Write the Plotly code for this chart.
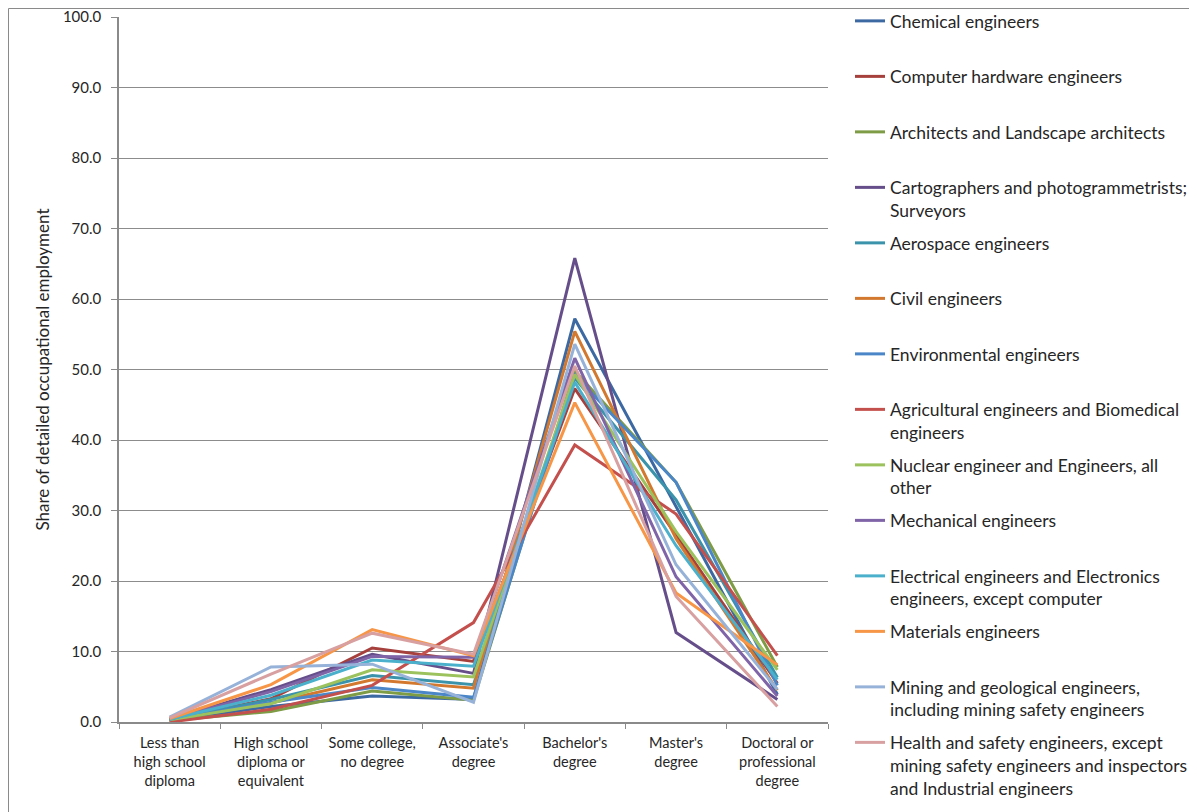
import plotly.graph_objects as go

categories = ["Less than<br>high school<br>diploma", "High school<br>diploma or<br>equivalent",
              "Some college,<br>no degree", "Associate's<br>degree", "Bachelor's<br>degree",
              "Master's<br>degree", "Doctoral or<br>professional<br>degree"]

series_names = [
    "Chemical engineers",
    "Computer hardware engineers",
    "Architects and Landscape architects",
    "Cartographers and photogrammetrists;<br>Surveyors",
    "Aerospace engineers",
    "Civil engineers",
    "Environmental engineers",
    "Agricultural engineers and Biomedical<br>engineers",
    "Nuclear engineer and Engineers, all<br>other",
    "Mechanical engineers",
    "Electrical engineers and Electronics<br>engineers, except computer",
    "Materials engineers",
    "Mining and geological engineers,<br>including mining safety engineers",
    "Health and safety engineers, except<br>mining safety engineers and inspectors<br>and Industrial engineers",
]

chemical = [0.2, 2.2, 3.7, 3.2, 57.2, 30.5, 3.9]
computer_hw = [0.3, 3.3, 10.5, 8.6, 47.3, 26.5, 5.5]
architects = [0.2, 1.5, 4.4, 3.1, 49.8, 34.0, 7.8]
cartographers = [0.4, 4.6, 9.6, 6.9, 65.8, 12.7, 3.2]
aerospace = [0.3, 3.2, 6.6, 5.3, 48.8, 31.5, 6.3]
civil = [0.3, 2.7, 6.0, 4.8, 55.4, 26.0, 4.5]
environmental = [0.3, 2.8, 4.9, 3.5, 49.2, 34.0, 5.2]
agricultural = [0.0, 1.8, 5.2, 14.1, 39.3, 29.5, 9.4]
nuclear = [0.3, 2.6, 7.4, 6.4, 49.3, 27.0, 7.4]
mechanical = [0.4, 4.3, 9.3, 9.2, 51.6, 20.6, 3.7]
electrical = [0.4, 3.8, 8.8, 7.9, 48.2, 25.0, 6.0]
materials = [0.5, 5.3, 13.1, 9.4, 45.3, 18.3, 8.1]
mining = [0.7, 7.8, 8.2, 2.8, 53.6, 22.3, 4.6]
health = [0.6, 6.8, 12.6, 9.6, 50.5, 17.8, 2.2]

series_values = [chemical, computer_hw, architects, cartographers, aerospace, civil,
                 environmental, agricultural, nuclear, mechanical, electrical, materials,
                 mining, health]

colors = ["#3D69A3", "#A6403D", "#7E9B45", "#654E8A", "#3A93AA", "#D2792F",
          "#4A86C8", "#C4504D", "#9BC25D", "#8064A8", "#4BB0CB", "#F79646",
          "#97B2D8", "#D8A0A0"]

FONT = "Lato"
TXT = "#262626"
fig = go.Figure()
for i, (name, vals, col) in enumerate(zip(series_names, series_values, colors)):
    nlines = name.count("<br>") + 1
    label = name + "<br>\u00a0" * max(0, 2 - nlines)
    fig.add_trace(go.Scatter(
        x=categories, y=vals, name=label, mode="lines",
        line=dict(color=col, width=3),
        legendgroup="g%d" % i,
    ))

# page has an 8px body margin; figure coordinates = page coordinates - 8
W, H = 1189, 804
L, T = 111, 9
PW, PH = 709, 705
R, B = W - L - PW, H - T - PH

def px(xf):
    return (xf - L) / PW

def py(yf):
    return (H - B - yf) / PH

fig.update_layout(
    width=W, height=H,
    margin=dict(l=L, r=R, t=T, b=B, autoexpand=False),
    paper_bgcolor="white", plot_bgcolor="white",
    font=dict(family=FONT, size=14, color=TXT),
    showlegend=True,
    legend=dict(
        x=px(842), y=py(-5), xanchor="left", yanchor="top",
        font=dict(family=FONT, size=17.5, color=TXT),
        valign="top", tracegroupgap=7, traceorder="grouped",
        bgcolor="rgba(0,0,0,0)", maxheight=900,
    ),
    xaxis=dict(
        type="category", range=[-0.5, 6.5], showgrid=False, showline=True,
        linecolor="#8a8a8a", linewidth=1.5,
        ticks="outside", ticklen=5, tickcolor="#8a8a8a", tickson="boundaries",
        ticklabelstandoff=7,
        tickfont=dict(family=FONT, size=14.5, color=TXT),
    ),
    yaxis=dict(
        range=[0, 100], dtick=10, tickformat=".1f", showgrid=True, gridcolor="#8c8c8c",
        gridwidth=1, showline=True, linecolor="#8a8a8a", linewidth=1.5,
        ticks="outside", ticklen=6, tickcolor="#8a8a8a", zeroline=False,
        ticklabelstandoff=7, ticklabeloverflow="allow",
        tickfont=dict(family=FONT, size=15, color=TXT),
        title=dict(text="Share of detailed occupational employment",
                   font=dict(family=FONT, size=17, color=TXT), standoff=9),
    ),
    shapes=[dict(type="rect", xref="paper", yref="paper",
                 x0=px(0.5), x1=px(1195), y0=py(815), y1=py(0.5),
                 line=dict(color="#8a8a8a", width=1), fillcolor="rgba(0,0,0,0)",
                 layer="below")],
)

fig.write_html("out.html")
